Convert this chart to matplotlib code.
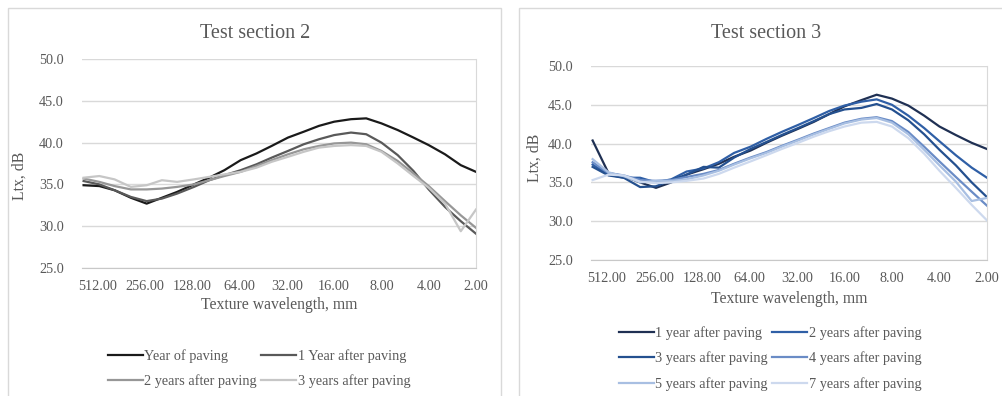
import numpy as np
import matplotlib.pyplot as plt
from matplotlib.patches import Rectangle

plt.rcParams['font.family'] = ['Liberation Serif', 'DejaVu Serif']

# texture wavelength, 1/3 octave bands (mm)
wavelength = [630, 500, 400, 315, 250, 200, 160, 125, 100, 80, 63, 50, 40,
              31.5, 25, 20, 16, 12.5, 10, 8, 6.3, 5, 4, 3.15, 2.5, 2]
tick_wl = [512, 256, 128, 64, 32, 16, 8, 4, 2]
tick_labels = ['512.00', '256.00', '128.00', '64.00', '32.00', '16.00', '8.00', '4.00', '2.00']

# Test section 2
s2_names = ['Year of paving', '1 Year after paving', '2 years after paving', '3 years after paving']
s2_year0 = [34.9, 34.8, 34.3, 33.4, 32.7, 33.4, 34.1, 35.0, 35.8, 36.7, 37.9, 38.7, 39.6,
            40.6, 41.3, 42.0, 42.5, 42.8, 42.9, 42.3, 41.5, 40.6, 39.7, 38.6, 37.3, 36.5]
s2_year1 = [35.4, 35.0, 34.3, 33.5, 33.0, 33.3, 33.9, 34.7, 35.5, 36.1, 36.7, 37.4, 38.2,
            39.0, 39.8, 40.4, 40.9, 41.2, 41.0, 40.0, 38.5, 36.6, 34.4, 32.3, 30.6, 29.1]
s2_year2 = [35.7, 35.3, 34.8, 34.4, 34.4, 34.5, 34.7, 35.0, 35.5, 36.0, 36.5, 37.2, 37.9,
            38.6, 39.2, 39.6, 39.9, 40.0, 39.8, 39.0, 37.8, 36.3, 34.8, 33.0, 31.3, 29.8]
s2_year3 = [35.8, 36.0, 35.6, 34.7, 34.9, 35.5, 35.3, 35.6, 35.9, 36.2, 36.5, 37.0, 37.7,
            38.3, 38.9, 39.4, 39.6, 39.7, 39.6, 38.9, 37.5, 36.0, 34.6, 32.7, 29.4, 32.0]

# Test section 3
s3_names = ['1 year after paving', '2 years after paving', '3 years after paving',
            '4 years after paving', '5 years after paving', '7 years after paving']
s3_year1 = [40.4, 36.2, 35.8, 35.0, 34.3, 35.0, 36.0, 36.7, 37.4, 38.3, 39.1, 40.1, 41.0,
            41.9, 42.8, 43.8, 44.8, 45.6, 46.3, 45.8, 44.9, 43.6, 42.2, 41.1, 40.1, 39.3]
s3_year2 = [37.3, 36.0, 35.6, 35.6, 35.0, 35.4, 36.4, 36.8, 37.6, 38.8, 39.6, 40.6, 41.5,
            42.4, 43.3, 44.2, 44.9, 45.4, 45.7, 45.0, 43.6, 42.0, 40.3, 38.5, 36.9, 35.6]
s3_year3 = [37.0, 35.9, 35.6, 34.4, 34.5, 35.3, 36.0, 37.0, 36.9, 38.2, 39.3, 40.2, 41.1,
            42.0, 42.9, 43.8, 44.4, 44.6, 45.1, 44.4, 43.0, 41.2, 39.2, 37.2, 35.0, 33.1]
s3_year4 = [37.6, 36.2, 35.9, 35.3, 35.2, 35.3, 35.7, 36.1, 36.6, 37.4, 38.2, 38.9, 39.7,
            40.5, 41.3, 42.0, 42.7, 43.2, 43.4, 42.9, 41.5, 39.6, 37.7, 35.7, 33.8, 32.0]
s3_year5 = [38.0, 36.3, 35.8, 35.0, 35.2, 35.2, 35.4, 35.9, 36.5, 37.3, 38.1, 38.8, 39.6,
            40.4, 41.2, 41.9, 42.6, 43.1, 43.3, 42.7, 41.2, 39.2, 37.2, 35.1, 32.6, 33.0]
s3_year7 = [35.3, 36.0, 35.9, 35.1, 34.9, 35.0, 35.2, 35.5, 36.1, 36.9, 37.7, 38.5, 39.3,
            40.1, 40.9, 41.6, 42.2, 42.7, 42.8, 42.2, 40.7, 38.7, 36.5, 34.3, 32.1, 30.1]

s2_colors = ['#1a1a1a', '#595959', '#979797', '#c6c6c6']
s3_colors = ['#1f3053', '#2f5fa6', '#24508f', '#6a8cc6', '#a8bfe2', '#cdd9ee']

W, H = 1003, 396
fig = plt.figure(figsize=(W / 100, H / 100), dpi=100)
txt = '#595959'
grid = '#d9d9d9'

# chart area borders
fig.add_artist(Rectangle((8 / W, -0.05), 493 / W, 1 - 8 / H + 0.05, transform=fig.transFigure,
                         fill=False, ec=grid, lw=1))
fig.add_artist(Rectangle((519 / W, -0.05), 500 / W, 1 - 8 / H + 0.05, transform=fig.transFigure,
                         fill=False, ec=grid, lw=1))

x = np.log2(512 / np.array(wavelength))
xt = np.log2(512 / np.array(tick_wl))


def setup(ax):
    ax.set_xlim(-1 / 3, 8)
    ax.set_ylim(25, 50)
    ax.set_yticks([25, 30, 35, 40, 45, 50])
    ax.set_yticklabels(['%.1f' % v for v in [25, 30, 35, 40, 45, 50]])
    ax.set_xticks(xt)
    ax.set_xticklabels(tick_labels)
    ax.tick_params(axis='both', length=0, labelsize=10.3, colors=txt)
    ax.tick_params(axis='x', pad=9)
    ax.tick_params(axis='y', pad=13)
    ax.grid(axis='y', color=grid, lw=1)
    ax.set_axisbelow(True)
    for s in ['left', 'top']:
        ax.spines[s].set_visible(False)
    ax.spines['bottom'].set_color('#c8c8c8')
    ax.spines['right'].set_color(grid)


ax1 = fig.add_axes([82 / W, 1 - 268 / H, 394 / W, 209 / H])
setup(ax1)
for vals, name, c in zip([s2_year0, s2_year1, s2_year2, s2_year3], s2_names, s2_colors):
    ax1.plot(x, vals, color=c, lw=1.6, label=name)

ax2 = fig.add_axes([591 / W, 1 - 260 / H, 396 / W, 194 / H])
setup(ax2)
for vals, name, c in zip([s3_year1, s3_year2, s3_year3, s3_year4, s3_year5, s3_year7], s3_names, s3_colors):
    ax2.plot(x, vals, color=c, lw=1.6, label=name)

fig.text(255 / W, 1 - 33 / H, 'Test section 2', ha='center', va='center', fontsize=14.5, color=txt)
fig.text(766 / W, 1 - 33 / H, 'Test section 3', ha='center', va='center', fontsize=14.5, color=txt)
fig.text(279 / W, 1 - 305 / H, 'Texture wavelength, mm', ha='center', va='center', fontsize=11.3, color=txt)
fig.text(789 / W, 1 - 299 / H, 'Texture wavelength, mm', ha='center', va='center', fontsize=11.3, color=txt)
fig.text(20 / W, 1 - 176 / H, 'Ltx, dB', ha='center', va='center', rotation=90, fontsize=11.3, color=txt)
fig.text(535 / W, 1 - 158 / H, 'Ltx, dB', ha='center', va='center', rotation=90, fontsize=11.3, color=txt)

leg_kw = dict(ncol=2, frameon=False, fontsize=10.3, handlelength=2.45, handletextpad=0.1,
              columnspacing=0.3, labelspacing=0.82, borderpad=0, borderaxespad=0,
              loc='upper left', labelcolor=txt, bbox_transform=fig.transFigure)

# Excel fills the legend row by row, matplotlib column by column
h, l = ax1.get_legend_handles_labels()
order = [0, 2, 1, 3]
ax1.legend([h[i] for i in order], [l[i] for i in order],
           bbox_to_anchor=(108 / W, 1 - 349 / H), **leg_kw)
h, l = ax2.get_legend_handles_labels()
order = [0, 2, 4, 1, 3, 5]
ax2.legend([h[i] for i in order], [l[i] for i in order],
           bbox_to_anchor=(619 / W, 1 - 326 / H), **leg_kw)

fig.savefig('out.png', dpi=100)
